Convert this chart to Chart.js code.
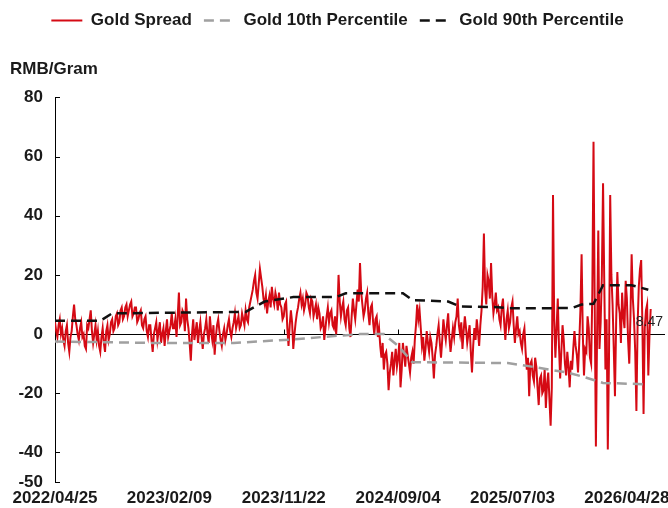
<!DOCTYPE html>
<html>
<head>
<meta charset="utf-8">
<script src="https://cdn.jsdelivr.net/npm/chart.js@4/dist/chart.umd.min.js"></script>
<style>
  body { margin: 0; background: #fff; }
  #caja { width: 668px; height: 508px; }
</style>
</head>
<body>
<div id="caja"><canvas id="grafico"></canvas></div>
<script>
// tick labels on the x axis and the index of the point each one sits on
const tickLabels = ["2022/04/25", "2023/02/09", "2023/11/22", "2024/09/04", "2025/07/03", "2026/04/28"];
const tickIdx = [0, 96, 192, 288, 384, 480];
const yTicks = [-50, -40, -20, 0, 20, 40, 60, 80];

// Gold Spread, RMB/Gram
const spread = [
  4, 1, -1, 3, 5, 0, 2, -2, -4, 1, 3, -3, -6, -1, 1, 6, 10, 5, 3, 0,
  -2, 2, 4, -1, 0, -4, -5, 3, 2, 5, 8, 1, -3, 0, 3, -2, 1, -4, -6, -1,
  2, -3, -6, 1, 3, -2, 0, 4, 5, 1, 2, 6, 7, 3, 4, 8, 9, 5, 6, 9,
  10, 6, 8, 10, 11, 6, 7, 9, 9, 4, 5, 7, 8, 3, 2, 5, 6, 1, -1, 3,
  3, -2, -6, 0, 2, 4, -2, 1, 4, -3, 0, 2, -4, 1, 5, -1, 1, 3, 7, 2,
  2, 5, -1, 6, 14, 3, 4, 8, 7, 1, 12, 5, 2, -3, -9, 0, 5, -2, 1, 4,
  -3, 1, 4, -1, -5, 0, 2, 5, 0, -3, 6, 1, -2, 3, -7, -1, 3, 5, 1, -2,
  -4, 0, 2, -2, 0, 3, 5, 1, -1, 2, 4, 7, 2, 4, 6, 2, 3, 7, 5, 3,
  8, 5, 4, 9, 11, 13, 15, 18, 20, 14, 12, 17, 22, 19, 16, 12, 10, 13, 7, 11,
  13, 9, 16, 12, 10, 14, 12, 8, 14, 10, 9, 5, 6, 10, 11, 2, -4, 3, 8, 4,
  -5, 0, 4, 7, 9, 12, 14, 10, 12, 8, 10, 14, 13, 9, 7, 12, 11, 6, 8, 10,
  5, 9, 7, 2, 3, 6, -2, 2, 6, 9, 4, 7, 8, 3, 2, 6, 0, 7, 20, 11,
  6, 9, 11, 5, 3, 8, 9, 2, -1, 6, 12, 8, 5, 10, 15, 11, 24, 14, 10, 6,
  8, 12, 14, 7, 3, 9, 10, 4, 0, 5, 6, -1, 2, -4, -8, -3, -12, -7, -6, -10,
  -19, -13, -10, -6, -14, -9, -5, -11, -8, -3, -18, -12, -3, -7, -11, -4, -7, -10, -13, -8,
  -6, -10, -2, 3, 10, 5, 8, 2, -4, -1, -9, -5, 1, -3, -6, -1, -3, -8, -15, -7,
  -4, 0, 3, -3, -8, -2, 5, 1, -2, 3, 7, -1, -6, -2, 2, -1, 4, 6, 12, 3,
  0, 4, -5, 1, 6, 2, -3, 0, 3, -6, -13, -4, 2, -2, 5, 1, -4, 3, 8, 16,
  34, 15, 10, 20, 18, 12, 24, 13, 7, 10, 14, 8, 9, 5, 3, 9, 12, 4, -2, 5,
  8, 2, 4, 9, 11, 3, -3, 2, 6, 0, 1, -3, -5, 0, 2, -6, -12, -8, -21, -10,
  -9, -14, -16, -8, -11, -18, -24, -15, -14, -20, -19, -12, -25, -17, -13, -22, -31, -18, 47, 5,
  -8, 2, 12, -4, -15, -6, 3, -2, -10, -14, -6, -11, -18, -9, -12, -5, 1, -4, -7, -13,
  -3, 8, 27, 0, -14, -5, -6, 6, 2, -8, -10, 14, 65, 10, -38, 0, 35, -5, 4, 20,
  51, 18, -12, 5, -39, -8, 47, 20, 10, -5, -21, 4, 21, 10, 7, -3, 14, 6, 2, 18,
  12, -2, -10, 6, 27, 12, 5, -6, -26, 3, 16, 22, 25, 4, -27, 2, 8, 10, -14, 0, 8.47
];

// percentile lines, only where they bend
const p10Idx = [0, 80, 150, 200, 230, 256, 276, 288, 300, 380, 400, 430, 444, 460, 498];
const p10Val = [-2.5, -3, -3, -1.8, -0.8, 0, 0, -4, -9.5, -9.8, -11, -13, -14.5, -16.5, -17];
const p90Idx = [0, 38, 48, 160, 176, 200, 236, 244, 292, 300, 330, 340, 372, 380, 434, 442, 452, 460, 484, 498];
const p90Val = [4.5, 4.5, 7, 7.5, 11, 12.5, 12.5, 13.8, 13.8, 11.5, 11, 9.3, 9.1, 8.7, 8.8, 10, 10.2, 16.5, 16.5, 15];

const toPoints = (idx, vals) => idx.map((i, k) => ({ x: i, y: vals[k] }));

// zero line, inner tick marks and the last value label
const marcas = {
  id: "marcas",
  beforeDatasetsDraw(chart) {
    const { ctx, chartArea, scales } = chart;
    const y0 = Math.round(scales.y.getPixelForValue(0)) + 0.5;
    ctx.save();
    ctx.strokeStyle = "#000";
    ctx.lineWidth = 1;
    ctx.beginPath();
    ctx.moveTo(chartArea.left, y0);
    ctx.lineTo(chartArea.right, y0);
    scales.y.ticks.forEach((t) => {
      const py = Math.round(scales.y.getPixelForValue(t.value)) + 0.5;
      ctx.moveTo(chartArea.left, py);
      ctx.lineTo(chartArea.left + 5, py);
    });
    scales.x.ticks.forEach((t) => {
      const px = Math.round(scales.x.getPixelForValue(t.value)) + 0.5;
      ctx.moveTo(px, y0);
      ctx.lineTo(px, y0 - 5);
    });
    ctx.stroke();
    ctx.restore();
  },
  afterDatasetsDraw(chart) {
    const pts = chart.getDatasetMeta(0).data;
    const ult = pts[pts.length - 1];
    const { ctx } = chart;
    ctx.save();
    ctx.font = '14px "Liberation Sans", Arial, sans-serif';
    ctx.fillStyle = "#222";
    ctx.textBaseline = "middle";
    ctx.fillText(String(spread[spread.length - 1]), ult.x - 15, ult.y + 13);
    ctx.restore();
  }
};

function renderGrafica() {
  Chart.defaults.font.family = '"Liberation Sans", Arial, sans-serif';
  Chart.defaults.color = "#1a1a1a";
  const fuerte = { size: 17, weight: "bold" };

  const data = {
    datasets: [
      {
        label: "Gold Spread",
        data: spread.map((v, i) => ({ x: i, y: v })),
        borderColor: "#d50a14",
        borderWidth: 2,
        pointRadius: 0,
        order: 3
      },
      {
        label: "Gold 10th Percentile",
        data: toPoints(p10Idx, p10Val),
        borderColor: "#a0a0a0",
        borderWidth: 2.5,
        borderDash: [10, 6],
        pointRadius: 0,
        order: 2
      },
      {
        label: "Gold 90th Percentile",
        data: toPoints(p90Idx, p90Val),
        borderColor: "#111",
        borderWidth: 2.5,
        borderDash: [10, 6],
        pointRadius: 0,
        order: 1
      }
    ]
  };

  const config = {
    type: "line",
    data,
    options: {
      responsive: true,
      maintainAspectRatio: false,
      animation: false,
      layout: { padding: { left: 10, right: 3, top: 0, bottom: 0 } },
      plugins: {
        legend: {
          position: "top",
          labels: {
            usePointStyle: true,
            pointStyle: "line",
            pointStyleWidth: 31,
            padding: 12,
            color: "#1a1a1a",
            font: fuerte,
            sort: (a, b) => a.datasetIndex - b.datasetIndex,
            generateLabels: (chart) => {
              const items = Chart.defaults.plugins.legend.labels.generateLabels(chart);
              items.forEach((it) => {
                const ds = chart.data.datasets[it.datasetIndex];
                it.strokeStyle = ds.borderColor;
                it.lineWidth = ds.borderWidth;
                it.lineDash = ds.borderDash || [];
              });
              return items;
            }
          }
        },
        title: {
          display: true,
          text: "RMB/Gram",
          align: "start",
          weight: 500,
          color: "#1a1a1a",
          font: fuerte,
          padding: { top: 20, bottom: 18 }
        },
        tooltip: { enabled: false }
      },
      scales: {
        x: {
          type: "linear",
          min: 0,
          max: 512,
          grid: { display: false, drawTicks: false },
          border: { display: false },
          afterBuildTicks: (s) => { s.ticks = tickIdx.map((v) => ({ value: v })); },
          afterFit: (s) => { s.height = 26; s.paddingRight = 0; },
          ticks: {
            autoSkip: false,
            maxRotation: 0,
            padding: 6,
            color: "#1a1a1a",
            font: fuerte,
            callback: (v) => tickLabels[tickIdx.indexOf(v)]
          }
        },
        y: {
          min: -50,
          max: 80,
          grid: { display: false, drawTicks: false },
          border: { display: true, color: "#000", width: 1 },
          afterBuildTicks: (s) => { s.ticks = yTicks.map((v) => ({ value: v })); },
          afterFit: (s) => { s.width = 45; },
          ticks: { padding: 12, color: "#1a1a1a", font: fuerte }
        }
      }
    },
    plugins: [marcas]
  };

  new Chart(document.getElementById("grafico"), config);
}

renderGrafica();
</script>
</body>
</html>
